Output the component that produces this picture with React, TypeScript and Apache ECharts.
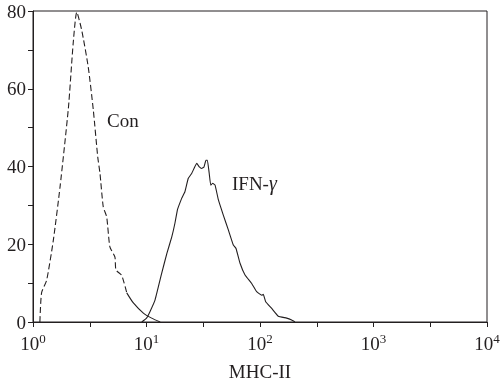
import React, { useEffect, useRef } from "react";
import * as echarts from "echarts";

// MHC-II fluorescence intensity (linear units) and event counts
const conMHC = [1.15, 1.19, 1.32, 1.51, 1.73, 2.05, 2.26, 2.43, 2.69, 3.07, 3.4, 3.72, 3.89, 4.16, 4.46, 4.76, 5.27, 5.38, 6.04, 6.7, 7.66, 9.38, 11.1, 13.2];
const conCount = [0, 7.5, 10.8, 21, 34.7, 55, 71.7, 79.7, 75, 65.5, 54.5, 42.4, 38.3, 29.6, 27, 19.3, 16.7, 13.4, 12, 7.5, 4.9, 2.3, 1, 0];
const conDashEnd = 19; // dashed part ends here; the tail looks solid

const ifnMHC = [9.08, 10.0, 10.7, 11.9, 13.6, 15.1, 16.7, 17.8, 18.7, 19.1, 20.4, 21.8, 23.3, 25.0, 27.7, 29.2, 30.6, 32.1, 33.4, 34.4, 35.7, 36.8, 38.3, 40.2, 43.0, 47.5, 52.6, 58.2, 61.5, 66.7, 73.8, 84.5, 93.5, 103.5, 106.9, 112.2, 126.8, 144.9, 171.8, 190.1, 203.2];
const ifnCount = [0, 1, 2.6, 5.7, 12.5, 17.6, 21.9, 25.4, 28.8, 29.6, 31.8, 33.5, 36.9, 38.2, 40.8, 39.9, 39.5, 39.9, 41.6, 41.6, 38.2, 35.2, 35.7, 35.2, 31.4, 27.5, 23.7, 19.8, 18.9, 15.1, 12.1, 9.9, 7.8, 6.9, 7.1, 5.2, 3.5, 1.5, 1, 0.5, 0];

const xDecades = [0, 1, 2, 3, 4];
const yTicks = [0, 20, 40, 60, 80];
const xName = "MHC-II";

const FONT = "'Liberation Serif', 'DejaVu Serif', serif";
const INK = "#231f20";
const FS = 19;

const toPairs = (xs: number[], ys: number[]) => xs.map((v, i) => [Math.log10(v), ys[i]]);

export default function App() {
  const ref = useRef<HTMLDivElement>(null);
  useEffect(() => {
    if (!ref.current) return;
    const chart = echarts.init(ref.current, null, { renderer: "svg" });
    const conPairs = toPairs(conMHC, conCount);
    const ifnPairs = toPairs(ifnMHC, ifnCount);
    chart.setOption({
      animation: false,
      grid: {
        left: 33, right: 13, top: 11, bottom: 63,
        containLabel: false,
        outerBoundsMode: "none",
        show: true, borderColor: INK, borderWidth: 1, backgroundColor: "transparent",
      },
      xAxis: {
        type: "value",
        min: xDecades[0],
        max: xDecades[xDecades.length - 1],
        interval: 0.5,
        name: xName,
        nameLocation: "middle",
        nameGap: 40,
        nameTextStyle: { fontFamily: FONT, fontSize: FS, color: INK },
        axisLine: { show: true, lineStyle: { color: INK, width: 1 } },
        axisTick: { show: true, inside: false, length: 5, lineStyle: { color: INK } },
        splitLine: { show: false },
        axisLabel: {
          margin: 10,
          hideOverlap: false,
          formatter: (v: number) => (xDecades.includes(v) ? `10{s|${v}}` : ""),
          fontFamily: FONT,
          fontSize: FS,
          color: INK,
          rich: {
            s: { fontFamily: FONT, fontSize: 13, color: INK, verticalAlign: "top", padding: [0, 0, 9, 0] },
          },
        },
      },
      yAxis: {
        type: "value",
        min: 0,
        max: 80,
        interval: 10,
        axisLine: { show: true, lineStyle: { color: INK, width: 1 } },
        axisTick: { show: true, inside: false, length: 5, lineStyle: { color: INK } },
        splitLine: { show: false },
        axisLabel: {
          margin: 7,
          formatter: (v: number) => (yTicks.includes(v) ? String(v) : ""),
          fontFamily: FONT,
          fontSize: FS,
          color: INK,
        },
      },
      series: [
        {
          name: "Con",
          type: "line",
          data: conPairs.slice(0, conDashEnd + 1),
          showSymbol: false,
          smooth: 0.2,
          lineStyle: { color: INK, width: 1.1, type: [6, 3] },
        },
        {
          name: "Con tail",
          type: "line",
          data: conPairs.slice(conDashEnd),
          showSymbol: false,
          smooth: 0.2,
          lineStyle: { color: INK, width: 1.1, type: "solid" },
        },
        {
          name: "IFN-γ",
          type: "line",
          data: ifnPairs,
          showSymbol: false,
          smooth: 0.1,
          lineStyle: { color: INK, width: 1.1, type: "solid" },
        },
      ],
      graphic: [
        {
          type: "text",
          x: 107,
          y: 120,
          style: { text: "Con", fontFamily: FONT, fontSize: FS, fill: INK, verticalAlign: "middle", align: "left" },
        },
        {
          type: "text",
          x: 232,
          y: 183,
          style: {
            text: "IFN-{g|γ}",
            fontFamily: FONT,
            fontSize: FS,
            fill: INK,
            verticalAlign: "middle",
            align: "left",
            rich: { g: { fontFamily: FONT, fontSize: FS + 1, fontStyle: "italic", fill: INK } },
          },
        },
      ],
    });
    return () => chart.dispose();
  }, []);
  return <div ref={ref} style={{ position: "fixed", left: 0, top: 0, width: 500, height: 385 }} />;
}
